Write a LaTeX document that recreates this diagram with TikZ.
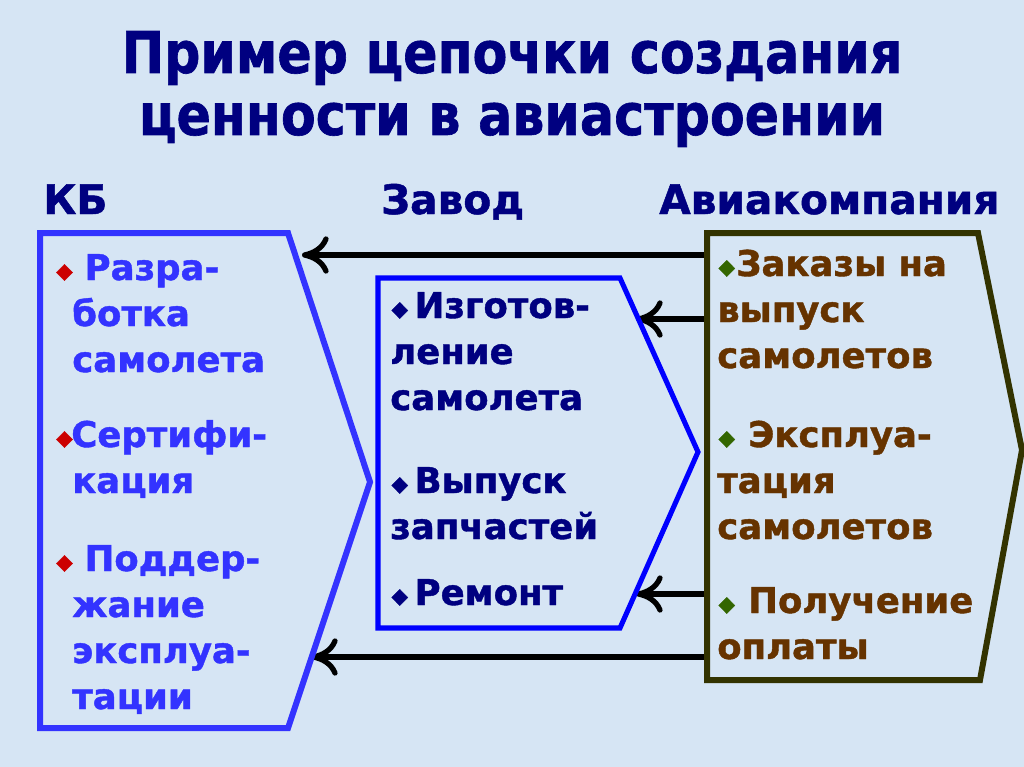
\documentclass[tikz,border=0pt]{standalone}
\usepackage{fontspec}
\setmainfont{DejaVu Sans}[BoldFeatures={FakeBold=1.2}]
\newfontfamily\titlefont{DejaVu Sans}[FakeStretch=0.88, BoldFeatures={FakeBold=1.1}]
\usetikzlibrary{arrows.meta}

\definecolor{bgblue}{RGB}{214,229,244}
\definecolor{navy}{RGB}{0,0,128}
\definecolor{kbblue}{RGB}{51,51,255}
\definecolor{zblue}{RGB}{0,0,255}
\definecolor{airolive}{RGB}{51,51,0}
\definecolor{airbrown}{RGB}{102,51,0}
\definecolor{airgreen}{RGB}{51,102,0}
\definecolor{kbred}{RGB}{204,0,0}

% bullet: colour
\newcommand{\bul}[1]{\textcolor{#1}{\raisebox{1.5pt}{\fontsize{16}{16}\selectfont ◆}}}

\begin{document}
\begin{tikzpicture}[x=0.75pt,y=-0.75pt,
    kbbox/.style={draw=kbblue, line width=4.5pt, line join=miter},
    zbox/.style={draw=zblue, line width=3.8pt, line join=miter},
    airbox/.style={draw=airolive, line width=4.5pt, line join=miter},
    arr/.style={-{Computer Modern Rightarrow[length=20pt,width=28pt]}, line width=4pt},
    head/.style={anchor=base west, inner sep=0pt, text=navy, font=\fontsize{30.5}{36}\selectfont\bfseries},
    item/.style={anchor=base west, inner sep=0pt, font=\fontsize{26.6}{34.5}\selectfont\bfseries}
]
    \fill[bgblue] (0,0) rectangle (1024,767);
    \useasboundingbox (0,0) rectangle (1024,767);

    \node[anchor=base, inner sep=0pt, text=navy, font=\titlefont\fontsize{43.2}{46.5}\selectfont\bfseries] (title) at (512,73)
        {\parbox[t]{760pt}{\centering Пример цепочки создания\\ценности в авиастроении}};

    \node[head] (kbhead) at (43,214) {КБ};
    \node[head] (zhead) at (381,214) {Завод};
    \node[head] (airhead) at (659,214) {Авиакомпания};

    % corners of the three blocks
    \coordinate (kbnw) at (40,233);  \coordinate (kbne) at (288,233);
    \coordinate (kbtip) at (370,482);
    \coordinate (kbse) at (288,728); \coordinate (kbsw) at (40,728);
    \coordinate (znw) at (378,278);  \coordinate (zne) at (620,278);
    \coordinate (ztip) at (698,452);
    \coordinate (zse) at (620,628);  \coordinate (zsw) at (378,628);
    \coordinate (airnw) at (707,233); \coordinate (airne) at (978,233);
    \coordinate (airtip) at (1022,450);
    \coordinate (airse) at (980,680); \coordinate (airsw) at (707,680);

    % arrow ends
    \coordinate (a1s) at (707,255); \coordinate (a1e) at (302,255);
    \coordinate (a2s) at (707,319); \coordinate (a2e) at (636,319);
    \coordinate (a3s) at (707,594); \coordinate (a3e) at (636,594);
    \coordinate (a4s) at (707,657); \coordinate (a4e) at (311,657);

    \draw[arr] (a1s) -- (a1e);
    \draw[arr] (a2s) -- (a2e);
    \draw[arr] (a3s) -- (a3e);
    \draw[arr] (a4s) -- (a4e);

    \draw[kbbox] (kbnw) -- (kbne) -- (kbtip) -- (kbse) -- (kbsw) -- cycle;
    \draw[zbox] (znw) -- (zne) -- (ztip) -- (zse) -- (zsw) -- cycle;
    \draw[airbox] (airnw) -- (airne) -- (airtip) -- (airse) -- (airsw) -- cycle;

    % KB
    \node[item, text=kbblue] (kb1) at (72,280)
        {\parbox[t]{220pt}{\hspace*{-12pt}\bul{kbred}\hspace{9pt}Разра-\\ботка\\самолета}};
    \node[item, text=kbblue] (kb2) at (72,447)
        {\parbox[t]{220pt}{\hspace*{-12pt}\bul{kbred}\hspace{-1pt}Сертифи-\\кация}};
    \node[item, text=kbblue] (kb3) at (72,571)
        {\parbox[t]{220pt}{\hspace*{-12pt}\bul{kbred}\hspace{9pt}Поддер-\\жание\\эксплуа-\\тации}};

    % Zavod
    \node[item, text=navy] (z1) at (390,318)
        {\parbox[t]{220pt}{\hspace*{1pt}\bul{navy}\hspace{5pt}Изготов-\\ление\\самолета}};
    \node[item, text=navy] (z2) at (390,493)
        {\parbox[t]{220pt}{\hspace*{1pt}\bul{navy}\hspace{5pt}Выпуск\\запчастей}};
    \node[item, text=navy] (z3) at (390,605)
        {\parbox[t]{220pt}{\hspace*{1pt}\bul{navy}\hspace{5pt}Ремонт}};

    % Aviakompaniya
    \node[item, text=airbrown] (air1) at (717,276)
        {\parbox[t]{220pt}{\hspace*{1pt}\bul{airgreen}\hspace{1pt}Заказы на\\выпуск\\самолетов}};
    \node[item, text=airbrown] (air2) at (717,447)
        {\parbox[t]{220pt}{\hspace*{1pt}\bul{airgreen}\hspace{10pt}Эксплуа-\\тация\\самолетов}};
    \node[item, text=airbrown] (air3) at (717,613)
        {\parbox[t]{220pt}{\hspace*{1pt}\bul{airgreen}\hspace{10pt}Получение\\оплаты}};
\end{tikzpicture}
\end{document}
